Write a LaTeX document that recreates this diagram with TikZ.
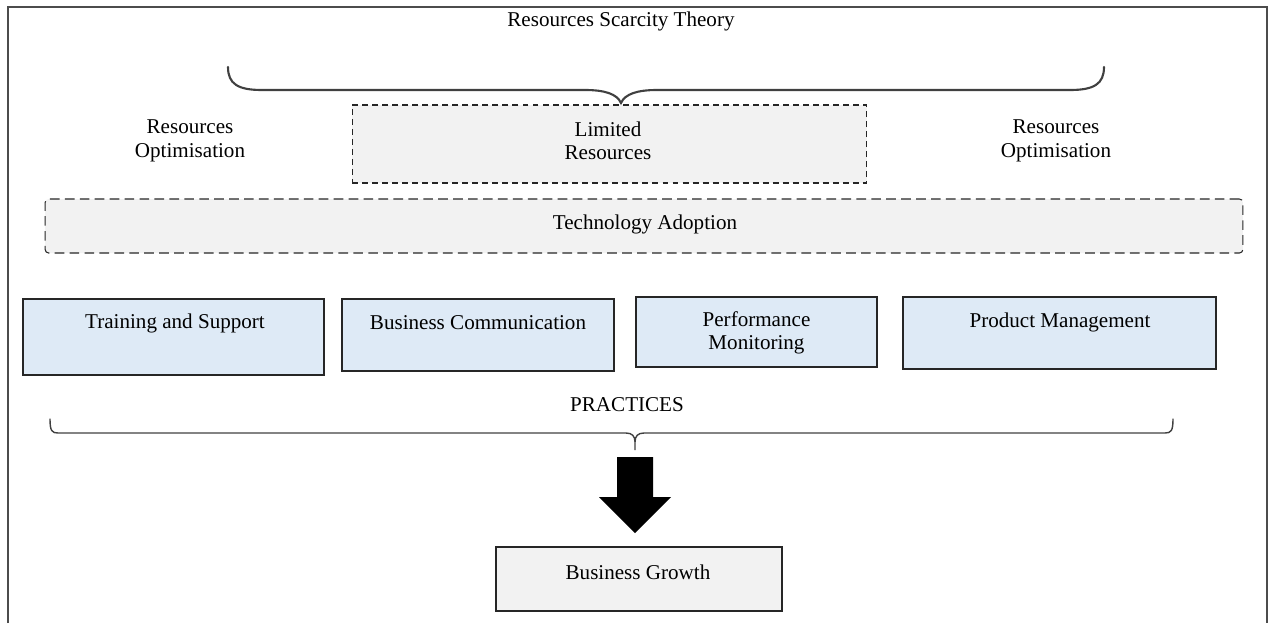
\documentclass[tikz,border=0pt]{standalone}
\usepackage{fontspec}
\setmainfont{Liberation Serif}
\usepackage{tikz}

\definecolor{boxblue}{HTML}{DEEAF6}
\definecolor{boxgrey}{HTML}{F2F2F2}

\begin{document}
\begin{tikzpicture} [x=0.02cm, y=-0.02cm,
        every node/.style={font=\fontsize{12}{13.4}\selectfont, inner sep=0pt},
        txt/.style={align=center},
        dashbox/.style={draw=black!85, dash pattern=on 3.4pt off 2.3pt, fill=boxgrey, line width=0.6pt},
        bluebox/.style={draw=black!85, fill=boxblue, line width=0.8pt},
        greybox/.style={draw=black!85, fill=boxgrey, line width=0.8pt},
        brace/.style={draw=black!75, line width=1.2pt, line cap=round}]
            \useasboundingbox (0,0) rectangle (1269,623);
            \draw[black!70, line width=1.3pt] (8,623) -- (8,7) -- (1267,7) -- (1267,623);

            \node[txt] (theory) at (621,21)  {Resources Scarcity Theory};
            \draw[brace] (228,67) .. controls (228,84) and (238,90) .. (262,90) -- (585,90)
                .. controls (605,90) and (617,94) .. (621,103)
                .. controls (625,94) and (637,90) .. (657,90) -- (1070,90)
                .. controls (1094,90) and (1104,84) .. (1104,67);

            \node[dashbox, minimum width=10.3cm, minimum height=1.56cm] (limited) at (609.5,144) {};
            \node[txt] (optleft)  at (190,141)  {Resources\\Optimisation};
            \node[txt] (limtext)  at (608,141)  {Limited\\Resources};
            \node[txt] (optright) at (1056,141) {Resources\\Optimisation};

            \node[dashbox, dash pattern=on 5.5pt off 3pt, rounded corners=2pt,
                minimum width=23.96cm, minimum height=1.08cm] (tech) at (644,226) {};
            \node[txt] (techtext) at (645,224) {Technology Adoption};

            \node[bluebox, minimum width=6.02cm, minimum height=1.52cm] (train) at (173.5,337) {};
            \node[bluebox, minimum width=5.44cm, minimum height=1.44cm] (comm)  at (478,335)   {};
            \node[bluebox, minimum width=4.82cm, minimum height=1.40cm] (perf)  at (756.5,332) {};
            \node[bluebox, minimum width=6.26cm, minimum height=1.44cm] (prod)  at (1059.5,333) {};
            \node[txt] (traintext) at (175,323)  {Training and Support};
            \node[txt] (commtext)  at (478,323)  {Business Communication};
            \node[txt] (perftext)  at (756.5,333) {Performance\\Monitoring};
            \node[txt] (prodtext)  at (1060,322) {Product Management};

            \node[txt] (practices) at (627,405) {PRACTICES};
            \draw[brace, line width=0.8pt] (50,419) .. controls (50,431) and (52,433) .. (58,433) -- (626,433)
                .. controls (632,433) and (635,436) .. (635,442) -- (635,450) -- (635,442)
                .. controls (635,436) and (638,433) .. (644,433) -- (1165,433)
                .. controls (1171,433) and (1173,431) .. (1173,419);

            \coordinate (arrow) at (635,457);
            \fill (arrow) ++(-18,0) -- ++(36,0) -- ++(0,40) -- ++(18,0) -- ++(-36,36)
                -- ++(-36,-36) -- ++(18,0) -- cycle;

            \node[greybox, minimum width=5.72cm, minimum height=1.28cm] (growth) at (639,579) {};
            \node[txt] (growthtext) at (638,572) {Business Growth};
        \end{tikzpicture}
\end{document}
